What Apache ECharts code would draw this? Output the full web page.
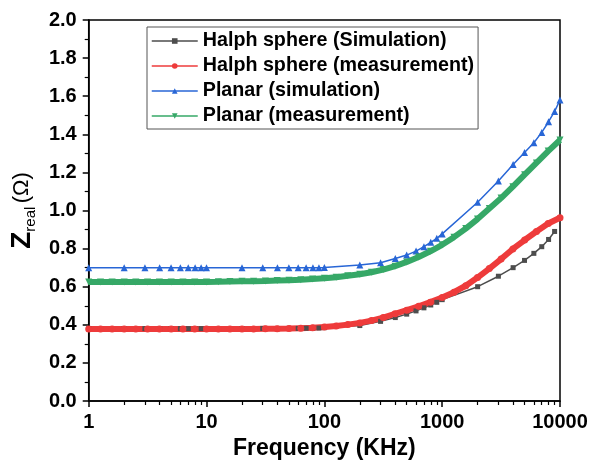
<!DOCTYPE html>
<html>
<head>
<meta charset="utf-8">
<script src="https://cdn.jsdelivr.net/npm/echarts@6/dist/echarts.min.js"></script>
<style>
html, body { margin: 0; padding: 0; background: #fff; }
#main { width: 595px; height: 468px; }
</style>
</head>
<body>
<div id="main"></div>
<script>
// simulation points (1-2-3..9 per decade)
var simFreq = [1, 2, 3, 4, 5, 6, 7, 8, 9, 10,
    20, 30, 40, 50, 60, 70, 80, 90, 100,
    200, 300, 400, 500, 600, 700, 800, 900, 1000,
    2000, 3000, 4000, 5000, 6000, 7000, 8000, 9000, 10000];
var sphereSim = [0.38, 0.38, 0.38, 0.38, 0.38, 0.38, 0.38, 0.38, 0.38, 0.38,
    0.38, 0.381, 0.38, 0.381, 0.381, 0.382, 0.382, 0.383, 0.385,
    0.396, 0.418, 0.438, 0.456, 0.473, 0.489, 0.504, 0.518, 0.532,
    0.60, 0.655, 0.70, 0.738, 0.775, 0.81, 0.848, 0.89, null];
var planarSim = [0.70, 0.70, 0.70, 0.70, 0.70, 0.70, 0.70, 0.70, 0.70, 0.70,
    0.70, 0.70, 0.70, 0.70, 0.70, 0.70, 0.70, 0.70, 0.701,
    0.714, 0.726, 0.748, 0.766, 0.787, 0.81, 0.833, 0.854, 0.877,
    1.043, 1.155, 1.242, 1.305, 1.356, 1.41, 1.466, 1.52, 1.58];

// measured points (log sweep)
var measFreq = [1, 1.26, 1.58, 2, 2.51, 3.16, 3.98, 5.01, 6.31, 7.94,
    10, 12.6, 15.8, 20, 25.1, 31.6, 39.8, 50.1, 63.1, 79.4,
    100, 126, 158, 200, 251, 316, 398, 501, 631, 794,
    1000, 1259, 1585, 1995, 2512, 3162, 3981, 5012, 6310, 7943, 10000];
var sphereMeas = [0.378, 0.378, 0.378, 0.378, 0.378, 0.378, 0.378, 0.378, 0.378, 0.378,
    0.378, 0.378, 0.378, 0.378, 0.378, 0.379, 0.379, 0.380, 0.382, 0.384,
    0.388, 0.394, 0.401, 0.410, 0.422, 0.438, 0.458, 0.477, 0.497, 0.519,
    0.543, 0.571, 0.605, 0.648, 0.695, 0.745, 0.798, 0.845, 0.890, 0.932, 0.962];
var planarMeas = [0.625, 0.625, 0.625, 0.625, 0.625, 0.625, 0.625, 0.625, 0.625, 0.625,
    0.625, 0.626, 0.627, 0.628, 0.629, 0.630, 0.632, 0.634, 0.636, 0.640,
    0.644, 0.650, 0.657, 0.665, 0.676, 0.690, 0.708, 0.730, 0.756, 0.786,
    0.820, 0.860, 0.905, 0.955, 1.010, 1.065, 1.125, 1.188, 1.250, 1.312, 1.370];

var seriesNames = ['Halph sphere (Simulation)', 'Halph sphere (measurement)', 'Planar (simulation)', 'Planar (measurement)'];
var seriesColors = ['#4d4d4d', '#ee3b3b', '#2866d6', '#36a867'];

var FONT = 'Liberation Sans, Arial, sans-serif';

function pairs(xs, ys) {
    return xs.map(function (x, i) { return [x, ys[i]]; });
}

var chart = echarts.init(document.getElementById('main'), null, { renderer: 'canvas' });

var option = {
    animation: false,
    backgroundColor: '#fff',
    grid: {
        left: 86, right: 35, top: 20, bottom: 67,
        show: true, borderColor: '#000', borderWidth: 1.5,
        containLabel: false
    },
    legend: {
        orient: 'vertical',
        left: 147, top: 27,
        padding: [4, 4, 3, 4],
        itemGap: 5,
        itemWidth: 46,
        itemHeight: 7,
        borderColor: '#555',
        borderWidth: 1,
        backgroundColor: '#fff',
        lineStyle: { width: 1.5 },
        textStyle: { fontSize: 19.7, fontWeight: 'bold', fontFamily: FONT, color: '#000', lineHeight: 20 },
        data: seriesNames
    },
    xAxis: {
        type: 'log',
        logBase: 10,
        min: 1,
        max: 10000,
        name: 'Frequency (KHz)',
        nameLocation: 'middle',
        nameGap: 34,
        nameTextStyle: { fontSize: 23, fontWeight: 'bold', fontFamily: FONT, color: '#000' },
        axisLine: { lineStyle: { color: '#000', width: 1.5 } },
        axisTick: { inside: false, length: 6, lineStyle: { color: '#000', width: 1.5 } },
        minorTick: { show: true, splitNumber: 9, length: 4, lineStyle: { color: '#000', width: 1.2 } },
        splitLine: { show: false },
        axisLabel: {
            margin: 11,
            fontSize: 20, fontWeight: 'bold', fontFamily: FONT, color: '#000',
            formatter: function (v) { return String(Math.round(v)); }
        }
    },
    yAxis: {
        type: 'value',
        min: 0,
        max: 2,
        interval: 0.2,
        name: '{z|Z}{s|real} {p|(Ω)}',
        nameLocation: 'middle',
        nameRotate: 90,
        nameGap: 43,
        nameTextStyle: {
            rich: {
                z: { fontSize: 28, fontWeight: 'bold', fontFamily: FONT, color: '#000', lineHeight: 32 },
                s: { fontSize: 15, fontFamily: FONT, color: '#000', lineHeight: 16, verticalAlign: 'bottom' },
                p: { fontSize: 22, fontFamily: FONT, color: '#000', lineHeight: 32 }
            }
        },
        axisLine: { lineStyle: { color: '#000', width: 1.5 } },
        axisTick: { inside: false, length: 6, lineStyle: { color: '#000', width: 1.5 } },
        minorTick: { show: true, splitNumber: 2, length: 4, lineStyle: { color: '#000', width: 1.2 } },
        splitLine: { show: false },
        axisLabel: {
            margin: 12,
            fontSize: 20, fontWeight: 'bold', fontFamily: FONT, color: '#000',
            formatter: function (v) { return v.toFixed(1); }
        }
    },
    series: [
        {
            name: seriesNames[0],
            type: 'line',
            data: pairs(simFreq, sphereSim),
            symbol: 'rect',
            symbolSize: 5,
            lineStyle: { width: 1.5, color: seriesColors[0] },
            itemStyle: { color: seriesColors[0] }
        },
        {
            name: seriesNames[1],
            type: 'line',
            data: pairs(measFreq, sphereMeas),
            symbol: 'circle',
            symbolSize: 7,
            lineStyle: { width: 6, color: seriesColors[1] },
            itemStyle: { color: seriesColors[1] }
        },
        {
            name: seriesNames[2],
            type: 'line',
            data: pairs(simFreq, planarSim),
            symbol: 'triangle',
            symbolSize: 7,
            lineStyle: { width: 1.5, color: seriesColors[2] },
            itemStyle: { color: seriesColors[2] }
        },
        {
            name: seriesNames[3],
            type: 'line',
            data: pairs(measFreq, planarMeas),
            symbol: 'triangle',
            symbolRotate: 180,
            symbolSize: 7,
            lineStyle: { width: 6, color: seriesColors[3] },
            itemStyle: { color: seriesColors[3] }
        }
    ]
};

chart.setOption(option);
</script>
</body>
</html>
